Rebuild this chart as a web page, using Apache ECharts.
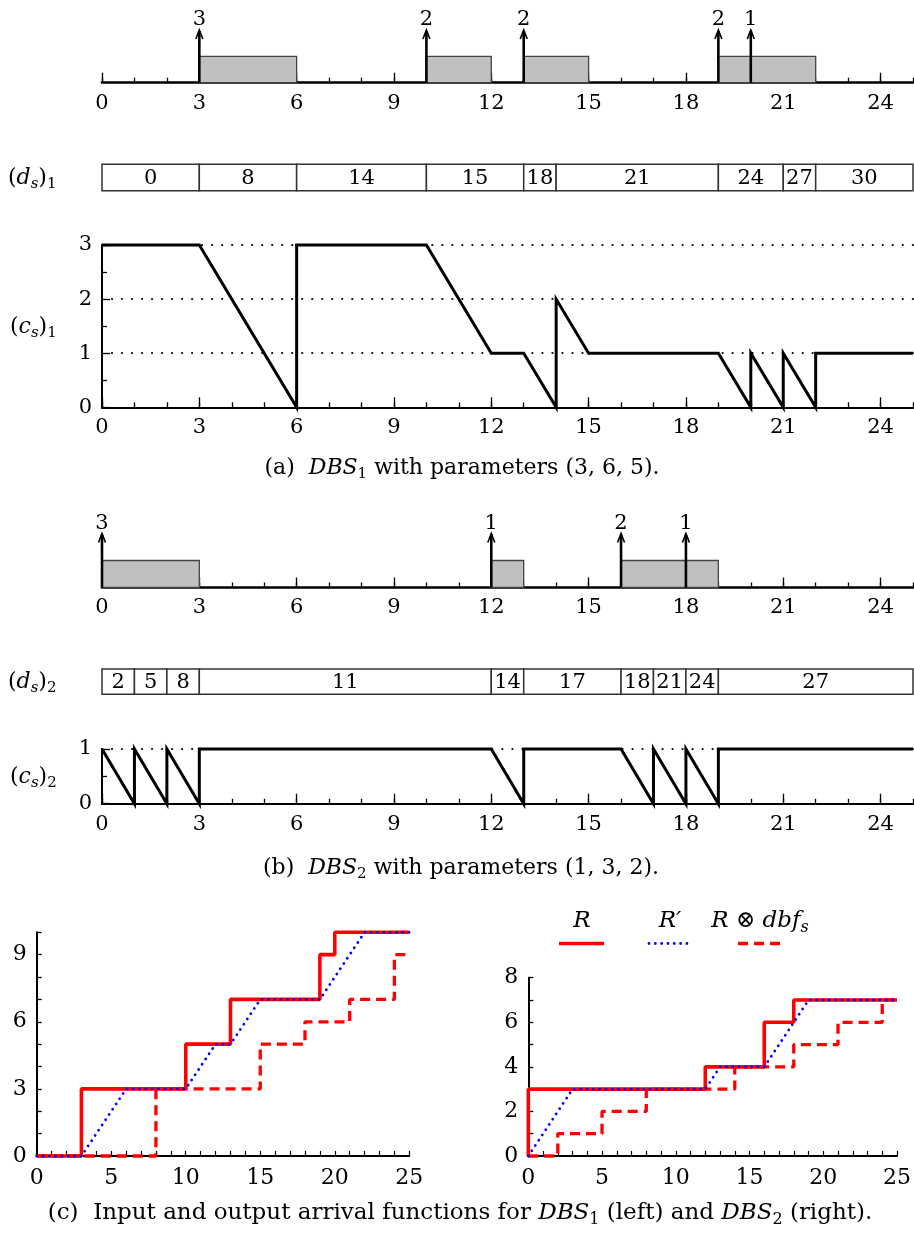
<!DOCTYPE html>
<html><head><meta charset="utf-8">
<script src="https://cdn.jsdelivr.net/npm/echarts@6/dist/echarts.min.js"></script>
<style>html,body{margin:0;padding:0;background:#fff}#c{width:914px;height:1234px}</style>
</head><body><div id="c"></div>
<script>
// ---------- data ----------
const timeLabels = [0, 3, 6, 9, 12, 15, 18, 21, 24];
const arrivalTimes1 = [3, 10, 13, 19, 20];
const arrivalCounts1 = [3, 2, 2, 2, 1];
const busyStart1 = [3, 10, 13, 19];
const busyEnd1 = [6, 12, 15, 22];
const dsBounds1 = [0, 3, 6, 10, 13, 14, 19, 21, 22, 25];
const dsValues1 = [0, 8, 14, 15, 18, 21, 24, 27, 30];
const csX1 = [0, 3, 6, 6, 10, 12, 13, 14, 14, 15, 19, 20, 20, 21, 21, 22, 22, 25];
const csY1 = [3, 3, 0, 3, 3, 1, 1, 0, 2, 1, 1, 0, 1, 0, 1, 0, 1, 1];
const csYLabels1 = [0, 1, 2, 3];

const arrivalTimes2 = [0, 12, 16, 18];
const arrivalCounts2 = [3, 1, 2, 1];
const busyStart2 = [0, 12, 16];
const busyEnd2 = [3, 13, 19];
const dsBounds2 = [0, 1, 2, 3, 12, 13, 16, 17, 18, 19, 25];
const dsValues2 = [2, 5, 8, 11, 14, 17, 18, 21, 24, 27];
const csX2 = [0, 1, 1, 2, 2, 3, 3, 12, 13, 13, 16, 17, 17, 18, 18, 19, 19, 25];
const csY2 = [1, 0, 1, 0, 1, 0, 1, 1, 0, 1, 1, 0, 1, 0, 1, 0, 1, 1];
const csYLabels2 = [0, 1];

const arrXLabels = [0, 5, 10, 15, 20, 25];
// left: DBS1
const R1x = [0, 3, 10, 13, 19, 20, 25];
const R1y = [0, 3, 5, 7, 9, 10, 10];
const Rp1x = [0, 3, 6, 10, 12, 13, 15, 19, 22, 25];
const Rp1y = [0, 0, 3, 3, 5, 5, 7, 7, 10, 10];
const Out1x = [0, 8, 15, 18, 21, 24, 25];
const Out1y = [0, 3, 5, 6, 7, 9, 9];
const leftYLabels = [0, 3, 6, 9];
// right: DBS2
const R2x = [0, 0, 12, 16, 18, 25];
const R2y = [0, 3, 4, 6, 7, 7];
const Rp2x = [0, 3, 12, 13, 16, 19, 25];
const Rp2y = [0, 3, 3, 4, 4, 7, 7];
const Out2x = [0, 2, 5, 8, 14, 18, 21, 24, 25];
const Out2y = [0, 1, 2, 3, 4, 5, 6, 7, 7];
const rightYLabels = [0, 2, 4, 6, 8];

// ---------- helpers ----------
const FF = '"DejaVu Serif", "Liberation Serif", serif';
const FS_TICK = 21;
const FS_CELL = 21;
const FS_TEXT = 23;
const zip = (a, b) => a.map((v, i) => [v, b[i]]);
const majorTicks = timeLabels;

function rich(size) {
  const s = Math.round(size * 0.7);
  const pad = [Math.round(size * 0.55), 0, 0, 0];
  return {
    t: { fontFamily: FF, fontSize: size, fill: '#000' },
    i: { fontFamily: FF, fontSize: size, fontStyle: 'italic', fill: '#000' },
    sub: { fontFamily: FF, fontSize: s, padding: pad, fill: '#000' },
    isub: { fontFamily: FF, fontSize: s, fontStyle: 'italic', padding: pad, fill: '#000' }
  };
}
function txt(x, y, text, align, size) {
  return { type: 'text', x: x, y: y, z: 100,
    style: { text: text, rich: rich(size), align: align || 'center', verticalAlign: 'middle', fill: '#000', font: size + 'px ' + FF } };
}

const grids = [
  { left: 102, top: 30, width: 811, height: 52.7 },     // 0 arrivals a
  { left: 102, top: 164.3, width: 811, height: 26.4 },  // 1 ds1
  { left: 102, top: 245, width: 811, height: 162.3 },   // 2 cs1
  { left: 102, top: 533.5, width: 811, height: 54 },    // 3 arrivals b
  { left: 102, top: 669, width: 811, height: 25.3 },    // 4 ds2
  { left: 102, top: 749, width: 811, height: 54.7 },    // 5 cs2
  { left: 36.7, top: 932.3, width: 372.6, height: 223.7 }, // 6 bottom left
  { left: 528.3, top: 977.7, width: 373.7, height: 178.3 } // 7 bottom right
];

const labelStyle = { fontFamily: FF, fontSize: FS_TICK, color: '#000' };
const xAxes = [];
const yAxes = [];
function timeAxis(g, lineW) {
  xAxes.push({ gridIndex: g, type: 'value', min: 0, max: 25, interval: 1,
    axisLine: { show: true, onZero: false, lineStyle: { color: '#000', width: lineW } },
    axisTick: { show: true, inside: true, length: 5, lineStyle: { color: '#000', width: 1.3 } },
    axisLabel: Object.assign({ customValues: timeLabels, margin: 10 }, labelStyle),
    splitLine: { show: false } });
  const main = xAxes.length - 1;
  xAxes.push({ gridIndex: g, type: 'value', min: 0, max: 25, position: 'bottom',
    axisLine: { show: false }, axisLabel: { show: false }, splitLine: { show: false },
    axisTick: { show: true, inside: true, length: 10, customValues: majorTicks, lineStyle: { color: '#000', width: 1.3 } } });
  return main;
}
function hiddenX(g) {
  xAxes.push({ gridIndex: g, type: 'value', min: 0, max: 25, show: false });
  return xAxes.length - 1;
}
function hiddenY(g, max) {
  yAxes.push({ gridIndex: g, type: 'value', min: 0, max: max, show: false });
  return yAxes.length - 1;
}
function valueY(g, max, labels, dotted) {
  yAxes.push({ gridIndex: g, type: 'value', min: 0, max: max, interval: 1,
    axisLine: { show: true, onZero: false, lineStyle: { color: '#000', width: 2 } },
    axisTick: { show: true, inside: true, length: dotted ? 8 : 5, lineStyle: { color: '#000', width: 1.3 } },
    minorTick: dotted ? { show: true, splitNumber: 2, length: 5, lineStyle: { color: '#000', width: 1.3 } } : { show: false },
    axisLabel: Object.assign({ customValues: labels, margin: 10 }, labelStyle),
    splitLine: dotted ? { show: true, showMinLine: false, lineStyle: { color: '#000', width: 2.2, type: [0.01, 10], cap: 'round' } } : { show: false } });
  return yAxes.length - 1;
}

const xa0 = timeAxis(0, 2.6), ya0 = hiddenY(0, 2);
const xa1 = hiddenX(1), ya1 = hiddenY(1, 1);
const xa2 = timeAxis(2, 2.2), ya2 = valueY(2, 3, csYLabels1, true);
const xa3 = timeAxis(3, 2.6), ya3 = hiddenY(3, 2);
const xa4 = hiddenX(4), ya4 = hiddenY(4, 1);
const xa5 = timeAxis(5, 2.2), ya5 = valueY(5, 1, csYLabels2, true);

function bottomX(g) {
  xAxes.push({ gridIndex: g, type: 'value', min: 0, max: 25, interval: 1,
    axisLine: { show: true, onZero: false, lineStyle: { color: '#000', width: 2 } },
    axisTick: { show: true, inside: true, length: 5, lineStyle: { color: '#000', width: 1.2 } },
    axisLabel: Object.assign({ customValues: arrXLabels, margin: 11 }, labelStyle, { fontSize: 22 }),
    splitLine: { show: false } });
  return xAxes.length - 1;
}
const xa6 = bottomX(6), ya6 = valueY(6, 10, leftYLabels, false);
const xa7 = bottomX(7), ya7 = valueY(7, 8, rightYLabels, false);
yAxes[ya6].axisLabel.fontSize = 22;
yAxes[ya7].axisLabel.fontSize = 22;

// ---------- render items ----------
function renderBox(params, api) {
  const a = api.coord([api.value(0), 0]);
  const b = api.coord([api.value(1), 1]);
  return { type: 'rect', shape: { x: a[0], y: b[1], width: b[0] - a[0], height: a[1] - b[1] },
    style: { fill: '#c0c0c0', stroke: '#444', lineWidth: 1.3 } };
}
function renderArrow(params, api) {
  const t = api.value(0), n = api.value(1);
  const p0 = api.coord([t, 0]), p1 = api.coord([t, 2]);
  return { type: 'group', children: [
    { type: 'line', shape: { x1: p0[0], y1: p0[1], x2: p1[0], y2: p1[1] + 1 }, style: { stroke: '#000', lineWidth: 2.6 } },
    { type: 'polyline', shape: { points: [[p1[0] - 3.5, p1[1] + 9], [p1[0], p1[1]], [p1[0] + 3.5, p1[1] + 9]] }, style: { stroke: '#000', lineWidth: 1.6, fill: null } },
    { type: 'text', x: p1[0], y: p1[1] - 10, style: { text: String(n), font: FS_TICK + 'px ' + FF, fill: '#000', align: 'center', verticalAlign: 'middle' } }
  ] };
}
function renderCell(params, api) {
  const a = api.coord([api.value(0), 0]);
  const b = api.coord([api.value(1), 1]);
  return { type: 'group', children: [
    { type: 'rect', shape: { x: a[0], y: b[1], width: b[0] - a[0], height: a[1] - b[1] }, style: { fill: '#fff', stroke: '#333', lineWidth: 1.5 } },
    { type: 'text', x: (a[0] + b[0]) / 2, y: (a[1] + b[1]) / 2 + 1, style: { text: String(api.value(2)), font: FS_CELL + 'px ' + FF, fill: '#000', align: 'center', verticalAlign: 'middle' } }
  ] };
}
const cells = (bounds, vals) => vals.map((v, i) => [bounds[i], bounds[i + 1], v]);

const series = [
  { type: 'custom', xAxisIndex: xa0, yAxisIndex: ya0, renderItem: renderBox, data: zip(busyStart1, busyEnd1), encode: { x: [0, 1] }, z: 2 },
  { type: 'custom', xAxisIndex: xa0, yAxisIndex: ya0, renderItem: renderArrow, data: zip(arrivalTimes1, arrivalCounts1), encode: { x: 0 }, z: 3 },
  { type: 'custom', xAxisIndex: xa1, yAxisIndex: ya1, renderItem: renderCell, data: cells(dsBounds1, dsValues1), encode: { x: [0, 1] } },
  { type: 'line', xAxisIndex: xa2, yAxisIndex: ya2, data: zip(csX1, csY1), showSymbol: false, clip: false, z: 5,
    lineStyle: { color: '#000', width: 3, join: 'miter' } },
  { type: 'custom', xAxisIndex: xa3, yAxisIndex: ya3, renderItem: renderBox, data: zip(busyStart2, busyEnd2), encode: { x: [0, 1] }, z: 2 },
  { type: 'custom', xAxisIndex: xa3, yAxisIndex: ya3, renderItem: renderArrow, data: zip(arrivalTimes2, arrivalCounts2), encode: { x: 0 }, z: 3 },
  { type: 'custom', xAxisIndex: xa4, yAxisIndex: ya4, renderItem: renderCell, data: cells(dsBounds2, dsValues2), encode: { x: [0, 1] } },
  { type: 'line', xAxisIndex: xa5, yAxisIndex: ya5, data: zip(csX2, csY2), showSymbol: false, clip: false, z: 5,
    lineStyle: { color: '#000', width: 3, join: 'miter' } }
];
function arrivalSeries(xi, yi, Rx, Ry, Px, Py, Ox, Oy) {
  series.push({ type: 'line', xAxisIndex: xi, yAxisIndex: yi, step: 'end', data: zip(Rx, Ry), showSymbol: false, clip: false, z: 4,
    lineStyle: { color: '#ff0000', width: 3.6 } });
  series.push({ type: 'line', xAxisIndex: xi, yAxisIndex: yi, step: 'end', data: zip(Ox, Oy), showSymbol: false, clip: false, z: 5,
    lineStyle: { color: '#ff0000', width: 3.3, type: [10, 6] } });
  series.push({ type: 'line', xAxisIndex: xi, yAxisIndex: yi, data: zip(Px, Py), showSymbol: false, clip: false, z: 6,
    lineStyle: { color: '#0000ff', width: 2.8, type: [0.01, 6.3], cap: 'round' } });
}
arrivalSeries(xa6, ya6, R1x, R1y, Rp1x, Rp1y, Out1x, Out1y);
arrivalSeries(xa7, ya7, R2x, R2y, Rp2x, Rp2y, Out2x, Out2y);

const graphics = [
  txt(8, 178, '{t|(}{i|d}{isub|s}{t|)}{sub|1}', 'left', 22),
  txt(10, 327, '{t|(}{i|c}{isub|s}{t|)}{sub|1}', 'left', 22),
  txt(8, 682, '{t|(}{i|d}{isub|s}{t|)}{sub|2}', 'left', 22),
  txt(10, 777, '{t|(}{i|c}{isub|s}{t|)}{sub|2}', 'left', 22),
  txt(462, 468, '{t|(a)  }{i|DBS}{sub|1}{t| with parameters (3, 6, 5).}', 'center', 22),
  txt(461, 868, '{t|(b)  }{i|DBS}{sub|2}{t| with parameters (1, 3, 2).}', 'center', 22),
  txt(460, 1213, '{t|(c)  Input and output arrival functions for }{i|DBS}{sub|1}{t| (left) and }{i|DBS}{sub|2}{t| (right).}', 'center', FS_TEXT),
  // legend
  txt(582, 921, '{i|R}', 'center', FS_TEXT),
  txt(670, 921, '{i|R′}', 'center', FS_TEXT),
  txt(760, 921, '{i|R ⊗ dbf}{isub|s}', 'center', FS_TEXT),
  { type: 'line', shape: { x1: 559, y1: 943.5, x2: 604, y2: 943.5 }, style: { stroke: '#ff0000', lineWidth: 3.6 } },
  { type: 'line', shape: { x1: 649, y1: 943.5, x2: 693, y2: 943.5 }, style: { stroke: '#0000ff', lineWidth: 2.8, lineDash: [0.01, 6.3], lineCap: 'round' } },
  { type: 'line', shape: { x1: 738, y1: 943.5, x2: 783, y2: 943.5 }, style: { stroke: '#ff0000', lineWidth: 3.3, lineDash: [10, 6] } }
];

const chart = echarts.init(document.getElementById('c'), null, { renderer: 'canvas' });
chart.setOption({
  animation: false,
  backgroundColor: '#fff',
  grid: grids,
  xAxis: xAxes,
  yAxis: yAxes,
  series: series,
  graphic: graphics
});
</script>
</body></html>
